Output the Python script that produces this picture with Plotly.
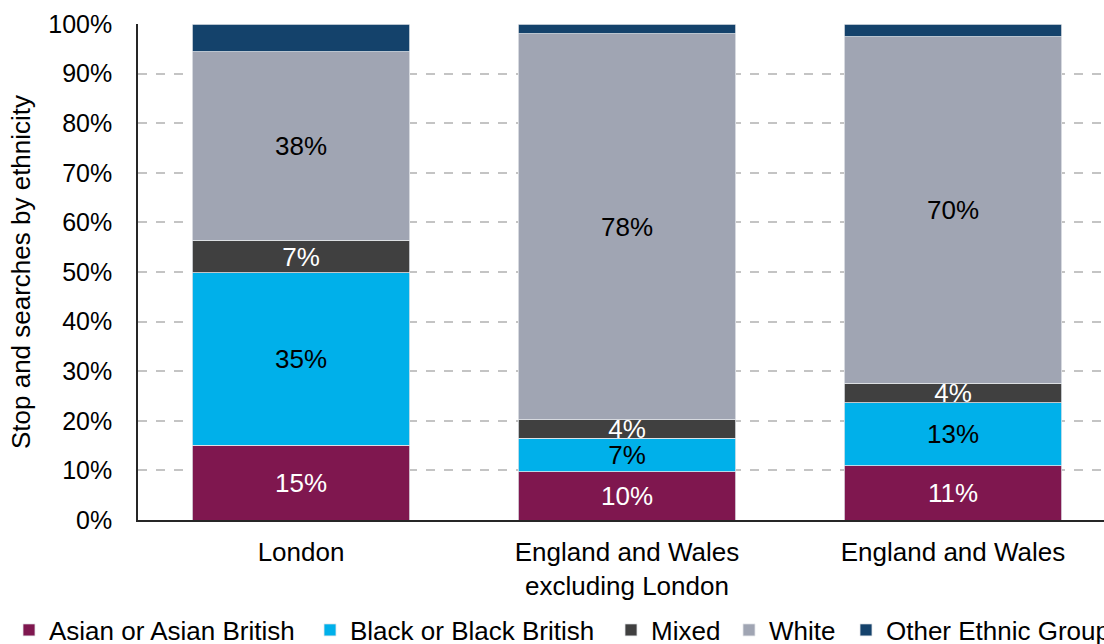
import plotly.graph_objects as go

# Stop and searches by ethnicity, share of total in each area
areas = ["London", "England and Wales<br>excluding London", "England and Wales"]
ethnic_groups = ["Asian or Asian British", "Black or Black British", "Mixed", "White", "Other Ethnic Group"]

asian = [0.151, 0.097, 0.109]
black = [0.347, 0.068, 0.127]
mixed = [0.066, 0.037, 0.040]
white = [0.380, 0.778, 0.698]
other = [0.056, 0.020, 0.026]

series = [asian, black, mixed, white, other]
colors = ["#7F174F", "#00B0EA", "#404040", "#A0A5B3", "#14426B"]
label_colors = ["white", "black", "white", "black", None]

FONT = "Liberation Sans, Arial, sans-serif"

# Legend entry anchors in pixels from the left edge
legend_x = [9, 310, 611, 729, 846]

fig = go.Figure()
for i, (name, vals, col, lc) in enumerate(zip(ethnic_groups, series, colors, label_colors)):
    legend_id = "legend" if i == 0 else f"legend{i + 1}"
    kwargs = dict(
        x=list(range(len(areas))),
        y=vals,
        name=name,
        marker=dict(color=col, line=dict(color="#E4E6EA", width=0.8)),
        width=0.667,
        legend=legend_id,
        showlegend=True,
        hoverinfo="skip",
    )
    if lc is not None:
        kwargs.update(
            texttemplate="%{y:.0%}",
            textposition="inside",
            insidetextanchor="middle",
            textangle=0,
            textfont=dict(color=lc, size=26, family=FONT),
        )
    else:
        kwargs.update(textposition="none")
    fig.add_trace(go.Bar(**kwargs))

legend_layout = {}
for i, px in enumerate(legend_x):
    key = "legend" if i == 0 else f"legend{i + 1}"
    legend_layout[key] = dict(
        x=px / 1104,
        xref="container",
        xanchor="left",
        y=1 - 630 / 644,
        yref="container",
        yanchor="middle",
        orientation="h",
        font=dict(size=26, family=FONT, color="black"),
        bgcolor="rgba(0,0,0,0)",
        borderwidth=0,
        itemwidth=30,
        visible=True,
    )

fig.update_layout(
    barmode="stack",
    width=1104,
    height=644,
    showlegend=True,
    margin=dict(l=138, r=0, t=24, b=124, autoexpand=False),
    paper_bgcolor="white",
    plot_bgcolor="white",
    font=dict(family=FONT, color="black", size=26),
    uniformtext=dict(minsize=26, mode="show"),
    bargap=0.333,
    **legend_layout,
)

fig.update_xaxes(
    range=[-0.5, -0.5 + 966 / 326],
    tickmode="array",
    tickvals=list(range(len(areas))),
    ticktext=areas,
    tickfont=dict(size=26, family=FONT, color="black"),
    ticklabelstandoff=8,
    showline=True,
    linecolor="#262626",
    linewidth=2,
    ticks="",
    showgrid=False,
    zeroline=False,
)

fig.update_yaxes(
    range=[0, 1],
    tickmode="array",
    tickvals=[i / 10 for i in range(11)],
    tickformat=".0%",
    tickfont=dict(size=25, family=FONT, color="black"),
    ticks="outside",
    ticklen=0,
    ticklabelstandoff=19,
    showline=True,
    linecolor="#262626",
    linewidth=1.5,
    showgrid=True,
    gridcolor="#C4C4C4",
    gridwidth=1.5,
    griddash="dash",
    zeroline=False,
    title=dict(
        text="Stop and searches by ethnicity",
        font=dict(size=26, family=FONT, color="black"),
        standoff=10,
    ),
)

fig.write_html("out.html")
